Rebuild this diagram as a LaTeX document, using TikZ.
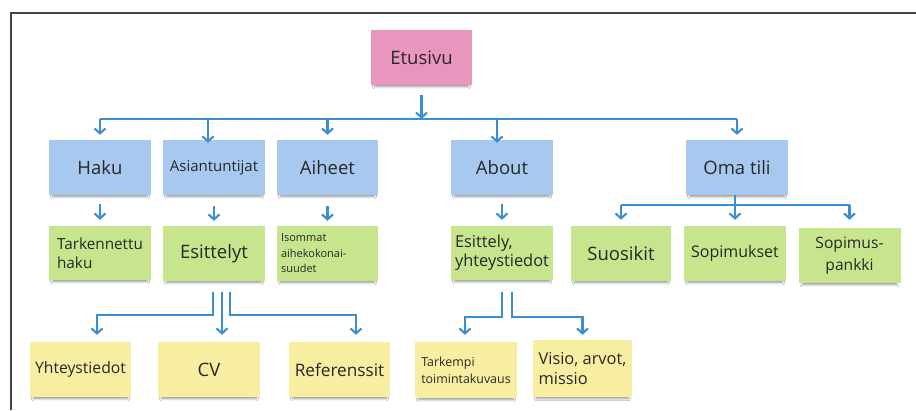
\documentclass[tikz,border=0pt]{standalone}
\usepackage{fontspec}
\setmainfont{Open Sans}
\usetikzlibrary{arrows.meta,shadows.blur,calc}

\definecolor{notepink}{HTML}{E896BE}
\definecolor{noteblue}{HTML}{A8C9EF}
\definecolor{notegreen}{HTML}{C6E58C}
\definecolor{noteyellow}{HTML}{F8EEA2}
\definecolor{linkblue}{HTML}{3A8ED1}
\definecolor{inktext}{HTML}{282828}
\definecolor{framegray}{HTML}{444444}

\tikzset{
  note/.style={rectangle, minimum width=102pt, minimum height=55pt, inner sep=2pt,
    align=center, text=inktext,
    blur shadow={shadow xshift=0pt, shadow yshift=-4pt, shadow opacity=40,
      shadow scale=0.93, shadow blur steps=6}},
  pinknote/.style={note, fill=notepink},
  bluenote/.style={note, fill=noteblue},
  greennote/.style={note, fill=notegreen},
  yellownote/.style={note, fill=noteyellow},
  link/.style={draw=linkblue, line width=2.1pt},
  arrowlink/.style={link, -{Straight Barb[length=5pt, width=11pt]}},
  frameline/.style={draw=framegray, line width=1.2pt},
  fbig/.style={font=\fontsize{18.5}{22}\selectfont},
  fmid/.style={font=\fontsize{16}{19.5}\selectfont},
  fsmall/.style={font=\fontsize{12.4}{17}\selectfont},
  ftiny/.style={font=\fontsize{11}{15.5}\selectfont},
}

\begin{document}
\begin{tikzpicture}[x=1pt, y=-1pt]
\useasboundingbox (0,0) rectangle (916,410);
\fill[white] (0,0) rectangle (916,410);

% outer frame (left and top edges)
\draw[frameline] (11,410) -- (11,13) -- (916,13);

% level 0
\node[pinknote, fbig, minimum width=101pt] (etu) at (421.5,57.5) {Etusivu};

% level 1
\node[bluenote, fbig] (haku) at (100,167.5) {Haku};
\node[bluenote, font=\fontsize{15}{18}\selectfont] (asi) at (214,167.5) {Asiantuntijat};
\node[bluenote, fbig, minimum width=101pt] (aih) at (327.5,167.5) {Aiheet};
\node[bluenote, fbig] (abo) at (502,167.5) {About};
\node[bluenote, fbig] (oma) at (737,167.5) {Oma tili};

% level 2
\node[greennote, font=\fontsize{15.3}{19}\selectfont, align=left, minimum height=54pt] (tark) at (100,253) {Tarkennettu\\haku};
\node[greennote, fbig] (esit) at (214,253.5) {Esittelyt};
\node[greennote, ftiny, align=left, minimum width=101pt, text width=93pt] (iso) at (327.5,253.5) {Isommat\\aihekokonai-\\suudet};
\node[greennote, font=\fontsize{16.4}{19}\selectfont, align=left, minimum height=54pt] (esy) at (502,253) {Esittely,\\yhteystiedot};
\node[greennote, fbig, minimum width=100pt] (suo) at (621,253.5) {Suosikit};
\node[greennote, fmid] (sopm) at (735,253.5) {Sopimukset};
\node[greennote, font=\fontsize{15.6}{22}\selectfont] (pank) at (849.5,255.5) {Sopimus-\\pankki};

% level 3
\node[yellownote, font=\fontsize{15.7}{19}\selectfont, minimum width=101pt] (yht) at (80.5,369.5) {Yhteystiedot};
\node[yellownote, fbig] (cv) at (209,369.5) {CV};
\node[yellownote, font=\fontsize{17.2}{20}\selectfont, minimum width=101pt] (ref) at (339.5,369.5) {Referenssit};
\node[yellownote, fsmall, align=left, minimum height=56pt] (tkv) at (466,370) {Tarkempi\\toimintakuvaus};
\node[yellownote, font=\fontsize{16.4}{20}\selectfont, align=left, minimum width=99pt, minimum height=57pt] (vis) at (582.5,368.5) {Visio, arvot,\\missio};

% bus rails
\coordinate (topbus) at (0,119);
\coordinate (omabus) at (0,205);

% Etusivu -> level 1
\draw[arrowlink] ([yshift=-10pt]etu.south) -- (etu.south |- topbus);
\draw[link] (haku.north |- topbus) -- (oma.north |- topbus);
\draw[arrowlink] (haku.north |- topbus) -- ([yshift=5pt]haku.north);
\draw[arrowlink] ([xshift=-6pt]asi.north |- topbus) -- ([xshift=-6pt,yshift=-3pt]asi.north);
\draw[arrowlink] (aih.north |- topbus) -- ([yshift=5pt]aih.north);
\draw[arrowlink] ([xshift=-5pt]abo.north |- topbus) -- ([xshift=-5pt,yshift=-3pt]abo.north);
\draw[arrowlink] (oma.north |- topbus) -- ([yshift=5pt]oma.north);

% level 1 -> level 2
\draw[arrowlink] ([yshift=-9pt]haku.south) -- ([yshift=6pt]tark.north);
\draw[arrowlink] ([yshift=-11pt]asi.south) -- ([yshift=5pt]esit.north);
\draw[arrowlink] ([yshift=-11pt]aih.south) -- ([yshift=5pt]iso.north);
\draw[arrowlink] ([yshift=-9pt]abo.south) -- ([yshift=6pt]esy.north);

% Oma tili -> its three children
\draw[link] (suo.north |- omabus) -- (pank.north |- omabus);
\draw[arrowlink] (oma.south -| sopm.north) -- ([yshift=6pt]sopm.north);
\draw[arrowlink] (suo.north |- omabus) -- ([yshift=6pt]suo.north);
\draw[arrowlink] (pank.north |- omabus) -- ([yshift=8pt]pank.north);

% Esittelyt -> level 3
\draw[arrowlink] ([xshift=-1pt,yshift=-11pt]esit.south) -- ++(0,23) -| ([xshift=16.5pt,yshift=7pt]yht.north);
\draw[arrowlink] ([xshift=8pt,yshift=-11pt]esit.south) -- ([xshift=13pt,yshift=7pt]cv.north);
\draw[arrowlink] ([xshift=16pt,yshift=-11pt]esit.south) -- ++(0,23) -| ([xshift=16.5pt,yshift=7pt]ref.north);

% Esittely, yhteystiedot -> level 3
\draw[arrowlink] ([yshift=-12pt]esy.south) -- ++(0,25) -| ([xshift=-1pt,yshift=7pt]tkv.north);
\draw[arrowlink] ([xshift=10pt,yshift=-12pt]esy.south) -- ++(0,25) -| ([yshift=5pt]vis.north);
\end{tikzpicture}
\end{document}
